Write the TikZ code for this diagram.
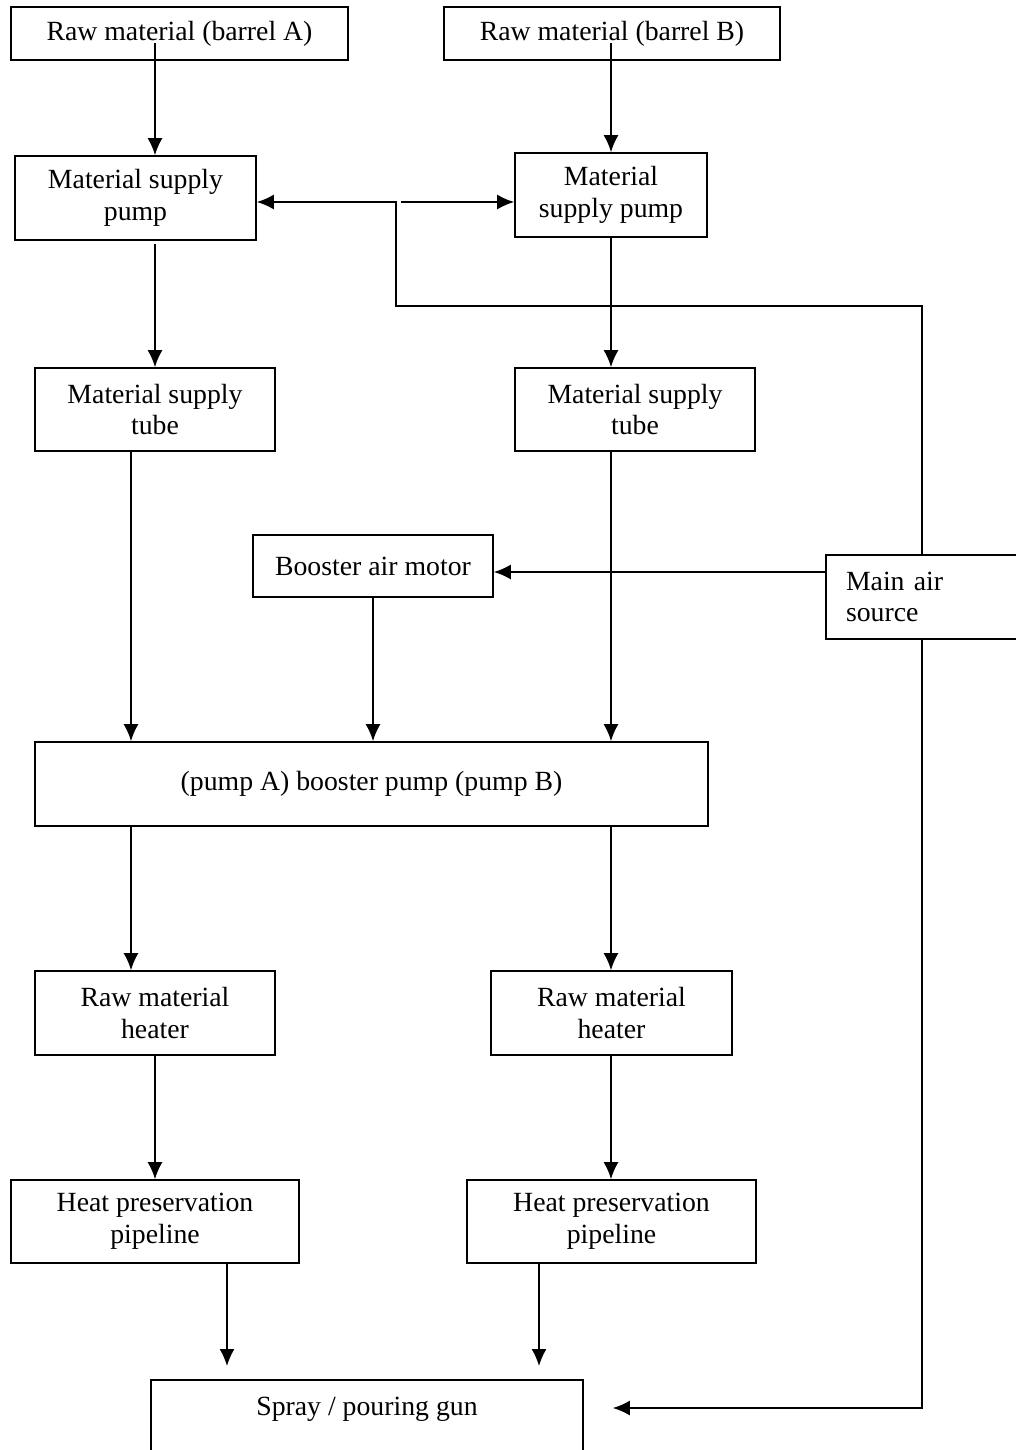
\documentclass[tikz,border=0pt]{standalone}
\usepackage{fontspec}
\setmainfont{Liberation Serif}
\usetikzlibrary{arrows.meta,calc}
\tikzset{%
  >={Latex[length=3.4mm,width=3mm]},
  box/.style={draw,line width=1pt,align=center,inner sep=0pt,
    font=\fontsize{15.8}{18}\selectfont},
  flow/.style={->,line width=0.9pt}%
}

\begin{document}
\begin{tikzpicture}[x=0.02cm,y=-0.02cm]
	%% some definitions
	
	\coordinate (cA) at (155,0); % left column
	\coordinate (cB) at (611,0); % right column
	\coordinate (inA) at (131,0); % left feed of booster pump
	\coordinate (outA) at (227,0);
	\coordinate (outB) at (539,0);
	\coordinate (cAir) at (922,0); % main air line
	\coordinate (rowM) at (0,572);
	\coordinate (rowG) at (0,1408);
	\coordinate (knee) at (396,306);
	\coordinate (split) at (396,202);
	
	\useasboundingbox (0,0) rectangle (1016,1450);
	
	%% boxes
	
	\node[box,minimum width=6.74cm,minimum height=1.06cm] (barrelA) at (179.5,33.5) {Raw material (barrel A)};
	\node[box,minimum width=6.72cm,minimum height=1.06cm] (barrelB) at (612,33.5) {Raw material (barrel B)};
	\node[box,minimum width=4.82cm,minimum height=1.68cm] (pumpA) at (135.5,198) {Material supply\\pump};
	\node[box,minimum width=3.84cm,minimum height=1.68cm] (pumpB) at (611,195) {Material\\supply pump};
	\node[box,minimum width=4.8cm,minimum height=1.66cm] (tubeA) at (155,409.5) {Material supply\\tube};
	\node[box,minimum width=4.8cm,minimum height=1.66cm] (tubeB) at (635,409.5) {Material supply\\tube};
	\node[box,minimum width=4.8cm,minimum height=1.24cm] (motor) at (373,566) {Booster air motor};
	\node[box,minimum width=4.2cm,minimum height=1.68cm,text width=3.4cm,align=left] (airsrc) at (931,597) {Main air\\source};
	\node[box,minimum width=13.46cm,minimum height=1.68cm] (booster) at (371.5,784) {(pump A) booster pump (pump B)};
	\node[box,minimum width=4.8cm,minimum height=1.68cm] (heaterA) at (155,1013) {Raw material\\heater};
	\node[box,minimum width=4.82cm,minimum height=1.68cm] (heaterB) at (611.5,1013) {Raw material\\heater};
	\node[box,minimum width=5.76cm,minimum height=1.66cm] (pipeA) at (155,1221.5) {Heat preservation\\pipeline};
	\node[box,minimum width=5.78cm,minimum height=1.66cm] (pipeB) at (611.5,1221.5) {Heat preservation\\pipeline};
	\node[box,anchor=north,minimum width=8.64cm,text height=0.72cm,text depth=1.5cm] (gun) at (367,1379) {Spray / pouring gun};
	
	%% material lines
	
	\draw[flow] ($(barrelA.center -| cA)+(0,9.5)$) -- (pumpA.north -| cA);
	\draw[flow] ($(barrelB.center -| cB)+(0,9.5)$) -- (pumpB.north -| cB);
	\draw[flow] ($(pumpA.south -| cA)+(0,3)$) -- (tubeA.north -| cA);
	\draw[flow] (pumpB.south -| cB) -- (tubeB.north -| cB);
	\draw[flow] (tubeA.south -| inA) -- (booster.north -| inA);
	\draw[flow] (tubeB.south -| cB) -- (booster.north -| cB);
	\draw[flow] (motor.south) -- (booster.north -| motor.south);
	\draw[flow] (booster.south -| inA) -- (heaterA.north -| inA);
	\draw[flow] (booster.south -| cB) -- (heaterB.north -| cB);
	\draw[flow] (heaterA.south) -- (pipeA.north);
	\draw[flow] (heaterB.south -| cB) -- (pipeB.north -| cB);
	\draw[flow] (pipeA.south -| outA) -- ($(gun.north -| outA)+(0,-13)$);
	\draw[flow] (pipeB.south -| outB) -- ($(gun.north -| outB)+(0,-13)$);
	
	%% air lines
	
	\draw[flow] (airsrc.west |- rowM) -- (motor.east |- rowM);
	\draw[flow] (airsrc.north -| cAir) |- (knee) -- (split) -- (pumpA.east |- split);
	\draw[flow] ($(split)+(5,0)$) -- (pumpB.west |- split);
	\draw[flow] (airsrc.south -| cAir) |- ($(gun.east |- rowG)+(29,0)$);
	
\end{tikzpicture}
\end{document}
